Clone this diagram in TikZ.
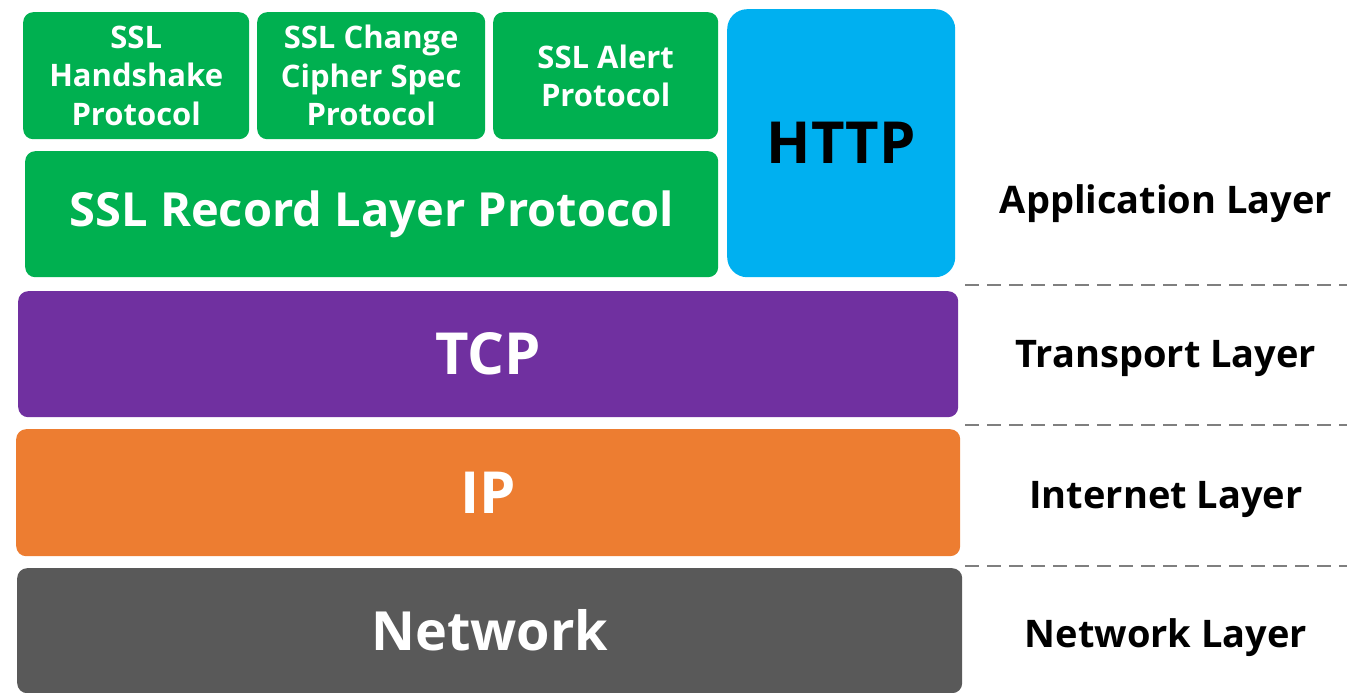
\documentclass[tikz,border=0pt]{standalone}
\usepackage{fontspec}
\setmainfont{Open Sans}
\definecolor{sslgreen}{HTML}{00B050}
\definecolor{httpblue}{HTML}{00B0F0}
\definecolor{tcppurple}{HTML}{7030A0}
\definecolor{iporange}{HTML}{ED7D31}
\definecolor{netgray}{HTML}{595959}
\definecolor{sepgray}{HTML}{7F7F7F}
\begin{document}
\begin{tikzpicture}[x=1pt, y=-1pt,
  block/.style={rounded corners=10pt, inner sep=0pt, anchor=north west,
                text=white, align=center},
  small/.style={block, fill=sslgreen, minimum width=226pt, minimum height=127pt,
                font=\bfseries\fontsize{31}{38.5}\selectfont},
  bar/.style={block, font=\bfseries\fontsize{58}{62}\selectfont},
  layername/.style={font=\bfseries\fontsize{38}{44}\selectfont, text=black, inner sep=0pt},
  separator/.style={draw=sepgray, line width=2.5pt, dash pattern=on 14pt off 8pt}
]
\useasboundingbox (0,0) rectangle (1350,693);

% application layer: SSL sub-protocols over the record layer, and HTTP
\node[small] (hs) at (23,12) {SSL\\Handshake\\Protocol};
\node[small, minimum width=228pt] (ccs) at (257,12) {SSL Change\\Cipher Spec\\Protocol};
\node[small, minimum width=225pt] (alert) at (493,12) {SSL Alert\\Protocol};
\node[block, fill=sslgreen, minimum width=693pt, minimum height=126pt,
      font=\bfseries\fontsize{47}{52}\selectfont] (record) at (25,151) {SSL Record Layer Protocol};
\node[block, fill=httpblue, rounded corners=20pt, minimum width=228pt, minimum height=268pt,
      text=black, font=\bfseries\fontsize{58}{62}\selectfont] (http) at (727,9) {HTTP};

% lower layers
\node[bar, fill=tcppurple, minimum width=940pt, minimum height=126pt] (tcp) at (18,291) {TCP};
\node[bar, fill=iporange, minimum width=944pt, minimum height=127pt] (ip) at (16,429) {IP};
\node[bar, fill=netgray, minimum width=945pt, minimum height=125pt,
      font=\bfseries\fontsize{54}{60}\selectfont] (net) at (17,568) {Network};

% layer names and separators
\node[layername] (lapp) at (1166,204) {Application Layer};
\node[layername] (ltra) at (1166,358) {Transport Layer};
\node[layername] (lint) at (1166,499) {Internet Layer};
\node[layername] (lnet) at (1166,638) {Network Layer};

\coordinate (s1a) at (965,285);  \coordinate (s1b) at (1347,285);
\coordinate (s2a) at (965,425);  \coordinate (s2b) at (1347,425);
\coordinate (s3a) at (965,566);  \coordinate (s3b) at (1347,566);
\draw[separator] (s1a) -- (s1b);
\draw[separator] (s2a) -- (s2b);
\draw[separator] (s3a) -- (s3b);
\end{tikzpicture}
\end{document}
